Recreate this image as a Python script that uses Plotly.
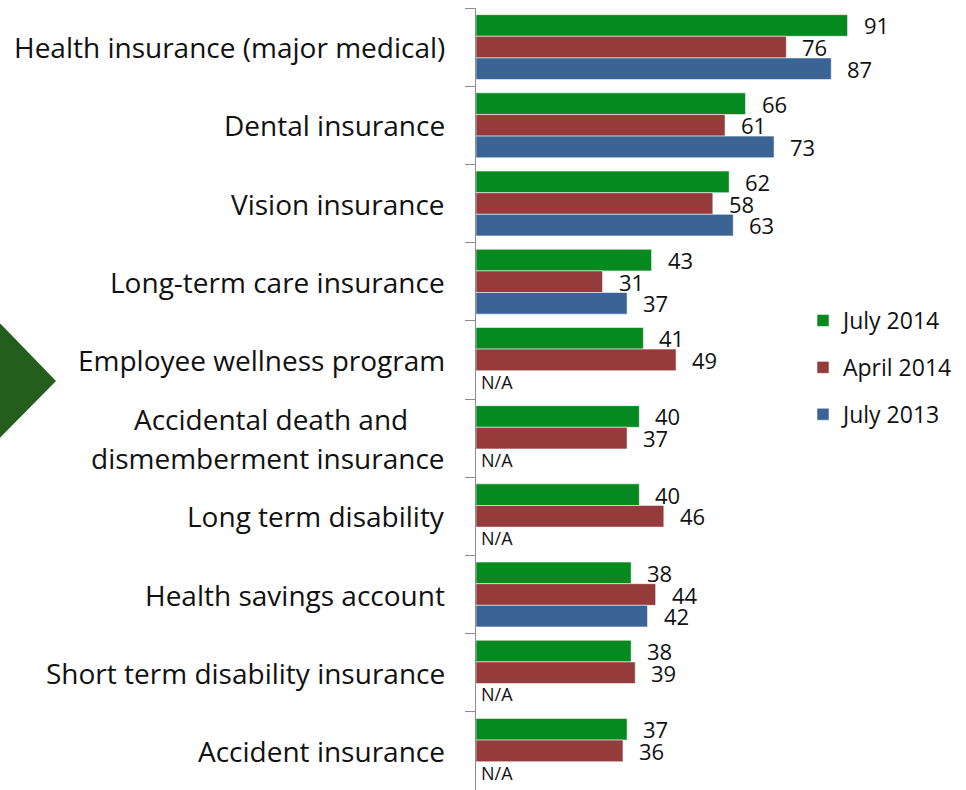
import plotly.graph_objects as go

# Benefit categories, top to bottom
categories = [
    "Health insurance (major medical)",
    "Dental insurance",
    "Vision insurance",
    "Long-term care insurance",
    "Employee wellness program",
    "Accidental death and<br>dismemberment insurance",
    "Long term disability",
    "Health savings account",
    "Short term disability insurance",
    "Accident insurance",
]

series_names = ["July 2014", "April 2014", "July 2013"]
july_2014 = [91, 66, 62, 43, 41, 40, 40, 38, 38, 37]
april_2014 = [76, 61, 58, 31, 49, 37, 46, 44, 39, 36]
july_2013 = [87, 73, 63, 37, None, None, None, 42, None, None]

colors = ["#06891E", "#953B3B", "#3B6495"]

W, H = 966, 790
ML, MR, MT, MB = 476, 0, 8, 0
plot_w = W - ML - MR
plot_h = H - MT - MB
bargap = 0.17
band = plot_h / len(categories)
bar_px = band * (1 - bargap) / 3

FONT = "Open Sans"
CAT_SIZE = 28

fig = go.Figure()
all_series = [july_2014, april_2014, july_2013]
for name, vals, col in zip(series_names, all_series, colors):
    fig.add_trace(go.Bar(
        y=categories, x=vals, name=name, orientation="h",
        marker=dict(color=col, line=dict(color="rgba(255,255,255,0.55)", width=1)),
        legendgroup=name,
        hoverinfo="x+name",
    ))

annotations = []
# category labels (left of the axis)
for cat in categories:
    lines = cat.split("<br>")
    if len(lines) == 1:
        annotations.append(dict(x=0, xref="paper", y=cat, yref="y", text=cat,
                                xanchor="right", yanchor="middle", xshift=-29,
                                showarrow=False, font=dict(size=CAT_SIZE, color="#111")))
    else:
        annotations.append(dict(x=0, xref="paper", y=cat, yref="y", text=lines[0],
                                xanchor="right", yanchor="middle", xshift=-66, yshift=19.5,
                                showarrow=False, font=dict(size=CAT_SIZE, color="#111")))
        annotations.append(dict(x=0, xref="paper", y=cat, yref="y", text=lines[1],
                                xanchor="right", yanchor="middle", xshift=-29, yshift=-19.5,
                                showarrow=False, font=dict(size=CAT_SIZE, color="#111")))

# value labels beside each bar
for k, vals in enumerate(all_series):
    yshift = (1 - k) * bar_px
    for cat, v in zip(categories, vals):
        if v is None:
            annotations.append(dict(x=0, y=cat, text="N/A", xanchor="left", yanchor="middle",
                                    xshift=3, yshift=yshift, showarrow=False,
                                    font=dict(size=18, color="#111")))
        else:
            annotations.append(dict(x=v, y=cat, text=str(v), xanchor="left", yanchor="middle",
                                    xshift=14, yshift=yshift, showarrow=False,
                                    font=dict(size=22, color="#111")))

def px_x(p):
    return (p - ML) / plot_w

def px_y(p):
    return 1 - (p - MT) / plot_h

# dark green arrow marker on the left edge
tri = "M {},{} L {},{} L {},{} Z".format(
    px_x(-12), px_y(311), px_x(56), px_y(381), px_x(-12), px_y(450))

fig.update_layout(
    width=W, height=H,
    margin=dict(l=ML, r=MR, t=MT, b=MB, pad=0),
    paper_bgcolor="white", plot_bgcolor="white",
    font=dict(family=FONT, color="#111"),
    barmode="group", bargap=bargap, bargroupgap=0,
    xaxis=dict(range=[0, 120], visible=False, fixedrange=True),
    yaxis=dict(autorange="reversed", showticklabels=False, showgrid=False,
               showline=True, linecolor="#8c8c8c", linewidth=1,
               ticks="outside", ticklen=10, tickcolor="#8c8c8c", tickwidth=1,
               tickson="boundaries", zeroline=False),
    legend=dict(x=px_x(803), xanchor="left", y=px_y(299), yanchor="top",
                font=dict(size=23, color="#111"), traceorder="grouped",
                tracegroupgap=14, itemwidth=30, bgcolor="rgba(0,0,0,0)"),
    annotations=annotations,
    shapes=[dict(type="path", path=tri, xref="paper", yref="paper",
                 fillcolor="#235E1C", line=dict(width=0), layer="above")],
    showlegend=True,
)

fig.write_html("out.html")
